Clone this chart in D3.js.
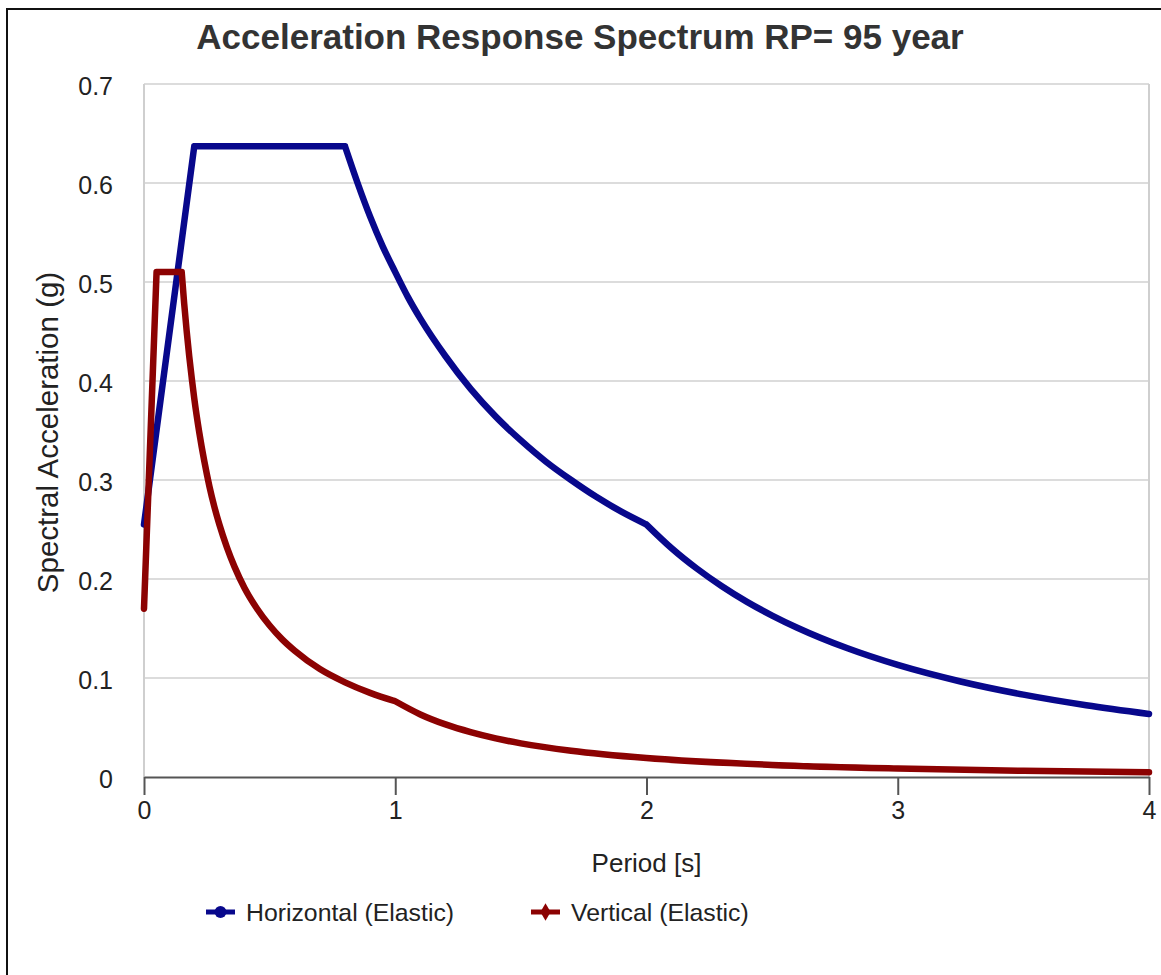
<!DOCTYPE html>
<html>
<head>
<meta charset="utf-8">
<script src="https://cdn.jsdelivr.net/npm/d3@7"></script>
<style>
  html, body { margin: 0; padding: 0; background: #fff; }
  svg { display: block; }
</style>
</head>
<body>
<div id="container"></div>
<script>
// horizontal (elastic) spectrum
const hPeriod = [0, 0.2, 0.8, 0.85, 0.9, 0.95, 1.0, 1.05, 1.1, 1.2, 1.3, 1.4, 1.5, 1.6, 1.7, 1.8, 1.9, 2.0,
  2.1, 2.2, 2.3, 2.4, 2.5, 2.6, 2.8, 3.0, 3.25, 3.5, 3.75, 4.0]
const hSa = [0.255, 0.637, 0.637, 0.600, 0.566, 0.536, 0.510, 0.485, 0.463, 0.425, 0.392, 0.364, 0.340, 0.3185, 0.300, 0.283, 0.268, 0.255,
  0.2311, 0.2106, 0.1927, 0.1769, 0.1631, 0.1508, 0.130, 0.1132, 0.0965, 0.0832, 0.0725, 0.0637]
const hCorners = [0.2, 0.8, 2.0]

// vertical (elastic) spectrum
const vPeriod = [0, 0.05, 0.15, 0.16, 0.17, 0.18, 0.19, 0.2, 0.22, 0.24, 0.26, 0.28, 0.3, 0.33, 0.36, 0.4, 0.45, 0.5, 0.55, 0.6, 0.7, 0.8, 0.9, 1.0,
  1.1, 1.2, 1.3, 1.4, 1.5, 1.7, 2.0, 2.5, 3.0, 3.5, 4.0]
const vSa = [0.17, 0.51, 0.51, 0.478, 0.450, 0.425, 0.403, 0.3825, 0.348, 0.319, 0.294, 0.273, 0.255, 0.232, 0.2125, 0.191, 0.170, 0.153, 0.139, 0.1275, 0.109, 0.0956, 0.085, 0.0765,
  0.0632, 0.0531, 0.0453, 0.0390, 0.0340, 0.0265, 0.0191, 0.0122, 0.0085, 0.0062, 0.0048]
const vCorners = [0.05, 0.15, 1.0]

const xTicks = [0, 1, 2, 3, 4]
const yTicks = [0, 0.1, 0.2, 0.3, 0.4, 0.5, 0.6, 0.7]

const seriesNames = ['Horizontal (Elastic)', 'Vertical (Elastic)']
const seriesColors = ['#08088c', '#8c0202']

const width = 1161
const height = 975
const margins = { top: 84, bottom: 198, left: 144, right: 12 }
const font = 'Liberation Sans, Arial, sans-serif'

const svg = d3.select('#container')
  .append('svg')
  .attr('width', width)
  .attr('height', height)
  .attr('viewBox', [0, 0, width, height])

// outer frame
svg.append('rect')
  .attr('x', 7).attr('y', 9)
  .attr('width', width).attr('height', height)
  .style('fill', 'none')
  .style('stroke', '#111')
  .style('stroke-width', 2)

const x = d3.scaleLinear([0, 4], [margins.left, width - margins.right])
const y = d3.scaleLinear([0, 0.7], [height - margins.bottom, margins.top])

// grid
svg.append('g')
  .selectAll('line')
  .data(yTicks.slice(1))
  .join('line')
  .attr('x1', x(0)).attr('x2', x(4))
  .attr('y1', d => y(d)).attr('y2', d => y(d))
  .style('stroke', '#dcdcdc')
  .style('stroke-width', 2)

// plot border left / right
svg.append('g')
  .selectAll('line')
  .data([0, 4])
  .join('line')
  .attr('x1', d => x(d)).attr('x2', d => x(d))
  .attr('y1', y(0.7)).attr('y2', y(0))
  .style('stroke', '#cfcfcf')
  .style('stroke-width', 2)

// x axis
const xAxis = svg.append('g')
  .attr('transform', `translate(0,${ y(0) })`)
  .call(d3.axisBottom(x).tickValues(xTicks).tickSize(18).tickSizeOuter(0).tickFormat(d3.format('d')))
xAxis.select('.domain').style('stroke', '#555').style('stroke-width', 2)
xAxis.selectAll('.tick line').style('stroke', '#555').style('stroke-width', 2)
xAxis.selectAll('.tick text')
  .attr('y', 24)
  .attr('dy', '0.71em')
  .style('font-family', font)
  .style('font-size', '25px')
  .style('fill', '#222')

// y axis labels
const yAxis = svg.append('g')
  .attr('transform', `translate(${ x(0) },0)`)
  .call(d3.axisLeft(y).tickValues(yTicks).tickSize(0).tickPadding(31).tickFormat(d => d === 0 ? '0' : d3.format('.1f')(d)))
yAxis.select('.domain').remove()
yAxis.selectAll('.tick text')
  .attr('dy', '0.42em')
  .style('font-family', font)
  .style('font-size', '25px')
  .style('fill', '#222')

// lines: straight between corner periods, smooth on the decaying branches
const line = d3.line()
  .x(d => x(d[0]))
  .y(d => y(d[1]))
  .curve(d3.curveMonotoneX)

function pieces(periods, values, corners) {
  const pts = d3.zip(periods, values)
  const out = []
  let cur = []
  pts.forEach(p => {
    cur.push(p)
    if (corners.includes(p[0])) {
      out.push(cur)
      cur = [p]
    }
  })
  if (cur.length > 1) out.push(cur)
  return out.map(line).join('')
}

const series = [
  pieces(hPeriod, hSa, hCorners),
  pieces(vPeriod, vSa, vCorners)
]

svg.append('g')
  .selectAll('path')
  .data(series)
  .join('path')
  .attr('d', d => d)
  .style('fill', 'none')
  .style('stroke', (d, i) => seriesColors[i])
  .style('stroke-width', 6.5)
  .style('stroke-linejoin', 'round')
  .style('stroke-linecap', 'round')

// title
svg.append('text')
  .attr('x', 580)
  .attr('y', 49)
  .attr('text-anchor', 'middle')
  .style('font-family', font)
  .style('font-size', '35px')
  .style('font-weight', 'bold')
  .style('fill', '#333')
  .text('Acceleration Response Spectrum RP= 95 year')

// axis titles
svg.append('text')
  .attr('x', (x(0) + x(4)) / 2)
  .attr('y', 872)
  .attr('text-anchor', 'middle')
  .style('font-family', font)
  .style('font-size', '26px')
  .style('fill', '#222')
  .text('Period [s]')

svg.append('text')
  .attr('transform', `translate(58,${ (y(0) + y(0.7)) / 2 + 2 }) rotate(-90)`)
  .attr('text-anchor', 'middle')
  .style('font-family', font)
  .style('font-size', '29.5px')
  .style('fill', '#222')
  .text('Spectral Acceleration (g)')

// legend
const legendX = [206, 531]
const legend = svg.append('g')
  .selectAll('g')
  .data(seriesNames)
  .join('g')
  .attr('transform', (d, i) => `translate(${ legendX[i] },912)`)

legend.append('line')
  .attr('x1', 0).attr('x2', 29)
  .style('stroke', (d, i) => seriesColors[i])
  .style('stroke-width', 5)

legend.append('path')
  .attr('transform', 'translate(14.5,0)')
  .attr('d', (d, i) => d3.symbol(i ? d3.symbolDiamond : d3.symbolCircle, i ? 90 : 110)())
  .style('fill', (d, i) => seriesColors[i])

legend.append('text')
  .attr('x', 40)
  .attr('dy', '0.36em')
  .style('font-family', font)
  .style('font-size', '24.8px')
  .style('fill', '#222')
  .text(d => d)
</script>
</body>
</html>
